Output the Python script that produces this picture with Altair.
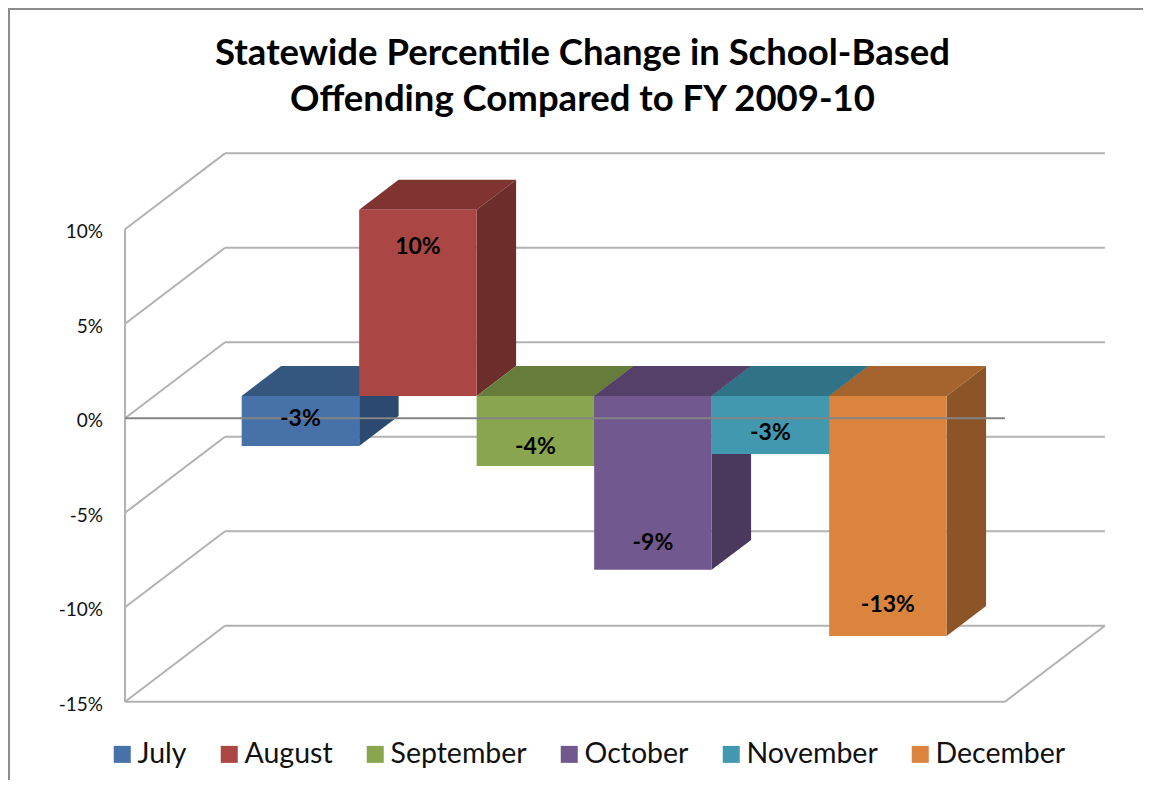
import altair as alt
import pandas as pd

months = ["July", "August", "September", "October", "November", "December"]
values = [-2.65, 9.85, -3.7, -9.2, -3.07, -12.7]
label_at = [-0.03, 9.08, -1.5, -6.6, -0.78, -9.9]
front_colors = ["#4672A9", "#AA4643", "#89A54E", "#71588F", "#4198AF", "#DB843D"]
top_colors = ["#34567F", "#7F3432", "#667C3A", "#55406A", "#317386", "#A5632D"]
side_colors = ["#2C4A70", "#6D2E2B", "#586B32", "#4A385D", "#2A6374", "#8C5527"]
ticks = [10, 5, 0, -5, -10, -15]
title_lines = ["Statewide Percentile Change in School-Based", "Offending Compared to FY 2009-10"]

# oblique projection of the 3-D chart box, in category and percent units
DX, DY = 0.851, 4.02
WALL_L, WALL_R = -0.993, 6.496
BAR_D0, BAR_D1 = 0.2935, 0.688
BAR_SHIFT = -0.25

xs = alt.Scale(domain=[-1.989, 7.671], nice=False, zero=False)
ys = alt.Scale(domain=[-19.14, 21.71], nice=False, zero=False)
X = lambda f: alt.X(f, type="quantitative", scale=xs, axis=None, title=None)
Y = lambda f: alt.Y(f, type="quantitative", scale=ys, axis=None, title=None)

def seg(x1, v1, d1, x2, v2, d2):
    return dict(x=x1 + DX * d1, y=v1 + DY * d1, x2=x2 + DX * d2, y2=v2 + DY * d2)

grid = []
for t in ticks:
    grid.append(seg(WALL_L, t, 0, WALL_L, t, 1))
    grid.append(seg(WALL_L, t, 1, WALL_R, t, 1))
grid.append(seg(WALL_L, ticks[0], 0, WALL_L, ticks[-1], 0))
grid.append(seg(WALL_L, ticks[-1], 0, WALL_R, ticks[-1], 0))
grid.append(seg(WALL_R, ticks[-1], 0, WALL_R, ticks[-1], 1))
zero_line = [seg(WALL_L, 0, 0, WALL_R, 0, 0)]

layers = [
    alt.Chart(pd.DataFrame(grid)).mark_rule(color="#B2B2B2", strokeWidth=2).encode(
        x=X("x"), y=Y("y"), x2="x2", y2="y2"
    ),
    alt.Chart(pd.DataFrame(dict(v=ticks, t=[f"{t}%" for t in ticks]))).mark_text(
        font="Lato", fontSize=19, color="#111111", align="right", baseline="middle", dy=3
    ).encode(x=alt.value(95), y=Y("v"), text="t:N"),
]

for i, (m, v) in enumerate(zip(months, values)):
    left, right = i + BAR_SHIFT, i + 1 + BAR_SHIFT
    low, high = min(v, 0), max(v, 0)
    top = pd.DataFrame([
        dict(y=high + DY * BAR_D0, xa=left + DX * BAR_D0, xb=right + DX * BAR_D0),
        dict(y=high + DY * BAR_D1, xa=left + DX * BAR_D1, xb=right + DX * BAR_D1),
    ])
    side = pd.DataFrame([
        dict(x=right + DX * BAR_D0, ya=low + DY * BAR_D0, yb=high + DY * BAR_D0),
        dict(x=right + DX * BAR_D1, ya=low + DY * BAR_D1, yb=high + DY * BAR_D1),
    ])
    front = pd.DataFrame([dict(month=m, xa=left + DX * BAR_D0, xb=right + DX * BAR_D0,
                               ya=low + DY * BAR_D0, yb=high + DY * BAR_D0)])
    layers.append(alt.Chart(top).mark_area(orient="horizontal", color=top_colors[i], opacity=1).encode(
        y=Y("y"), x=X("xa"), x2="xb"))
    layers.append(alt.Chart(side).mark_area(color=side_colors[i], opacity=1).encode(
        x=X("x"), y=Y("ya"), y2="yb"))
    layers.append(alt.Chart(front).mark_rect().encode(
        x=X("xa"), x2="xb", y=Y("ya"), y2="yb",
        color=alt.Color("month:N", scale=alt.Scale(domain=months, range=front_colors), title=None,
                        legend=alt.Legend(orient="none", legendX=100, legendY=732, direction="horizontal",
                                          columns=6, symbolType="square", symbolSize=289, symbolStrokeWidth=0,
                                          labelFontSize=28.5, labelFont="Lato", labelColor="#111111",
                                          columnPadding=28, labelOffset=1, labelLimit=300, symbolOpacity=1,
                                          rowPadding=0, padding=0)),
    ))

layers.append(alt.Chart(pd.DataFrame(zero_line)).mark_rule(color="#858585", strokeWidth=2).encode(
    x=X("x"), y=Y("y"), x2="x2", y2="y2"))

labels = pd.DataFrame(dict(
    x=[i + BAR_SHIFT + 0.5 + DX * BAR_D0 for i in range(6)],
    y=label_at,
    t=[f"{round(v)}%" for v in values],
))
layers.append(alt.Chart(labels).mark_text(font="Lato", fontWeight="bold", fontSize=23, color="#000000").encode(
    x=X("x"), y=Y("y"), text="t:N"))

frame = pd.DataFrame({"a": [0]})
layers.append(alt.Chart(frame).mark_rule(color="#8C8C8C", strokeWidth=2).encode(
    x=alt.value(1), y=alt.value(0), y2=alt.value(772)))
layers.append(alt.Chart(frame).mark_rule(color="#8C8C8C", strokeWidth=2).encode(
    x=alt.value(0), x2=alt.value(1135), y=alt.value(1)))

chart = alt.layer(*layers).properties(
    width=1135, height=772, padding=0,
    autosize=alt.AutoSizeParams(type="none"),
    title=alt.TitleParams(text=title_lines, anchor="middle", offset=-111, dx=7, fontSize=36.5,
                          font="Lato", fontWeight="bold", color="#000000", lineHeight=46),
).configure_view(stroke=None)

chart.save("out.html", embed_options={"renderer": "svg", "actions": False})
